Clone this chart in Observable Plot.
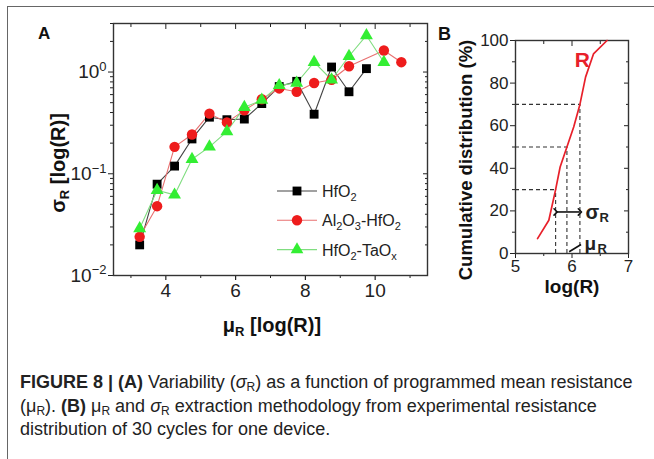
<!DOCTYPE html>
<html><head><meta charset="utf-8">
<script src="https://cdn.jsdelivr.net/npm/d3@7"></script>
<script src="https://cdn.jsdelivr.net/npm/@observablehq/plot@0.6"></script>
<style>
body{margin:0;background:#fff;}
#fig{position:relative;width:654px;height:459px;overflow:hidden;font-family:"Liberation Sans",Arial,sans-serif;color:#111;}
.abs{position:absolute;white-space:nowrap;}
#frame{position:absolute;left:7px;top:6px;width:700px;height:500px;border:1px solid #666;}
.plot{position:absolute;}
#caption{position:absolute;left:20px;top:371px;font-family:"Liberation Sans",Arial,sans-serif;font-size:18px;line-height:23.5px;white-space:nowrap;color:#222;}
#caption sub{font-size:12px;vertical-align:-3px;line-height:0;}
.lab{font-weight:bold;font-size:20px;}
.lab sub{font-size:13px;vertical-align:-4px;line-height:0;}
</style></head><body>
<div id="fig">
  <div id="frame"></div>
</div>
<script>
// ---------- Panel A data ----------
const hfo2Mu    = [3.25, 3.75, 4.25, 4.75, 5.25, 5.75, 6.25, 6.75, 7.25, 7.75, 8.25, 8.75, 9.25, 9.75];
const hfo2Sigma = [0.020, 0.079, 0.119, 0.22, 0.36, 0.34, 0.345, 0.49, 0.72, 0.81, 0.385, 1.12, 0.64, 1.08];
const alMu      = [3.25, 3.75, 4.25, 4.75, 5.25, 5.75, 6.25, 6.75, 7.25, 7.75, 8.25, 8.75, 9.25, 10.25, 10.75];
const alSigma   = [0.024, 0.048, 0.184, 0.243, 0.39, 0.32, 0.42, 0.54, 0.69, 0.64, 0.78, 0.84, 1.14, 1.63, 1.25];
const taMu      = [3.25, 3.75, 4.25, 4.75, 5.25, 5.75, 6.25, 6.75, 7.25, 7.75, 8.25, 8.75, 9.25, 9.75, 10.25];
const taSigma   = [0.029, 0.069, 0.062, 0.139, 0.184, 0.26, 0.45, 0.53, 0.74, 0.78, 1.25, 0.84, 1.43, 2.29, 1.25];
const seriesNames = ["HfO2", "Al2O3-HfO2", "HfO2-TaOx"];
const xMajorA = [4, 6, 8, 10];
const xMinorA = [3, 5, 7, 9, 11];
const yExpA = [-2, -1, 0];

// ---------- Panel B data ----------
const cdfLogR = [5.39, 5.59, 5.71, 5.79, 5.91, 6.03, 6.14, 6.24, 6.38, 6.62];
const cdfPct  = [7, 15.6, 30, 40.6, 50, 59.4, 70, 82.8, 93.7, 100];
const levelPct = [30, 50, 70];
const levelLogR = [5.71, 5.91, 6.14];
const xTicksB = [5, 6, 7];
const xMinorB = [5.5, 6.5];
const yTicksB = [0, 20, 40, 60, 80, 100];
const yMinorB = [10, 30, 50, 70, 90];

const fig = document.getElementById("fig");
const FONT = "Liberation Sans, Arial, sans-serif";

function rows(xs, ys, name) { return xs.map((x, i) => ({x, y: ys[i], name})); }
const dA = rows(hfo2Mu, hfo2Sigma, seriesNames[0]);
const dB = rows(alMu, alSigma, seriesNames[1]);
const dC = rows(taMu, taSigma, seriesNames[2]);

const yMinorA = [];
for (const e of yExpA) for (let k = 2; k <= 9; k++) { const v = k * Math.pow(10, e); if (v <= 3) yMinorA.push(v); }
const yMajorA = yExpA.map(e => Math.pow(10, e));

const blank = () => "";
const chartA = Plot.plot({
  width: 440, height: 345,
  marginLeft: 113, marginRight: 13, marginTop: 23, marginBottom: 70,
  x: {domain: [2.5, 11.5]},
  y: {type: "log", domain: [0.01, 3]},
  style: {fontFamily: FONT, fontSize: "18px", color: "#222", background: "transparent", overflow: "visible"},
  marks: [
    Plot.axisX(xMajorA, {tickSize: 5, tickPadding: 3, fontSize: 19, label: null, strokeWidth: 1.2}),
    Plot.axisX(xMinorA, {tickSize: 3, tickFormat: blank, label: null}),
    Plot.axisX(xMajorA, {anchor: "top", tickSize: -5, tickFormat: blank, label: null}),
    Plot.axisX(xMinorA, {anchor: "top", tickSize: -3, tickFormat: blank, label: null}),
    Plot.axisY(yMajorA, {tickSize: 5, tickPadding: 2, fontSize: 19, label: null, tickFormat: d => "10^" + Math.round(Math.log10(d))}),
    Plot.axisY(yMinorA, {tickSize: 3, tickFormat: blank, label: null}),
    Plot.axisY(yMajorA, {anchor: "right", tickSize: -5, tickFormat: blank, label: null}),
    Plot.axisY(yMinorA, {anchor: "right", tickSize: -3, tickFormat: blank, label: null}),
    Plot.frame({stroke: "#333", strokeWidth: 1.4}),
    Plot.line(dA, {x: "x", y: "y", stroke: "#444", strokeWidth: 1.1}),
    Plot.line(dB, {x: "x", y: "y", stroke: "#e87070", strokeWidth: 1.1}),
    Plot.line(dC, {x: "x", y: "y", stroke: "#80dd80", strokeWidth: 1.1}),
    Plot.dot(dA, {x: "x", y: "y", symbol: "square", r: 5, fill: "#000"}),
    Plot.dot(dB, {x: "x", y: "y", symbol: "circle", r: 5.2, fill: "#ee1c1c"}),
    Plot.dot(dC, {x: "x", y: "y", symbol: "triangle", r: 4.8, fill: "#33ee33"})
  ]
});
chartA.classList.add("plot");
chartA.style.left = "0px"; chartA.style.top = "0px";
fig.appendChild(chartA);

// superscripts on log tick labels
d3.select(chartA).selectAll('g[aria-label="y-axis tick label"] text').each(function () {
  const t = this.textContent;
  if (!t.startsWith("10^")) return;
  const exp = t.slice(3).replace("-", "\u2212");
  const sel = d3.select(this);
  sel.text("10");
  sel.append("tspan").attr("dy", "-0.55em").attr("font-size", "13px").text(exp);
});

// ---------- Panel B ----------
const cdf = cdfLogR.map((x, i) => ({x, y: cdfPct[i]}));
const levels = levelPct.map((p, i) => ({p, x: levelLogR[i]}));
const sigmaArrow = [{x1: levelLogR[0], x2: levelLogR[2], y: 19.5}];
const muPointer = [{x1: 5.95, y1: 0.8, x2: 6.16, y2: 4.2}];
const annotations = [
  {x: 6.24, y: 19, t: "σ", size: 20, dx: 0, dy: 0},
  {x: 6.24, y: 19, t: "R", size: 13, dx: 14, dy: 5},
  {x: 6.22, y: 4.5, t: "μ", size: 19, dx: 0, dy: 0},
  {x: 6.22, y: 4.5, t: "R", size: 13, dx: 13, dy: 5}
];

const chartB = Plot.plot({
  width: 214, height: 310,
  marginLeft: 75, marginRight: 26, marginTop: 40, marginBottom: 57,
  x: {domain: [5, 7]},
  y: {domain: [0, 100]},
  style: {fontFamily: FONT, fontSize: "17px", color: "#222", background: "transparent", overflow: "visible"},
  marks: [
    Plot.axisX(xTicksB, {tickSize: 5, tickPadding: 1, fontSize: 17, label: null}),
    Plot.axisX(xMinorB, {tickSize: 3, tickFormat: blank, label: null}),
    Plot.axisX(xTicksB, {anchor: "top", tickSize: -5, tickFormat: blank, label: null}),
    Plot.axisX(xMinorB, {anchor: "top", tickSize: -3, tickFormat: blank, label: null}),
    Plot.axisY(yTicksB, {tickSize: 5, tickPadding: 2, fontSize: 17, label: null}),
    Plot.axisY(yMinorB, {tickSize: 3, tickFormat: blank, label: null}),
    Plot.axisY(yTicksB, {anchor: "right", tickSize: -5, tickFormat: blank, label: null}),
    Plot.axisY(yMinorB, {anchor: "right", tickSize: -3, tickFormat: blank, label: null}),
    Plot.frame({stroke: "#333", strokeWidth: 1.4}),
    Plot.ruleY(levels, {y: "p", x1: 5, x2: "x", stroke: "#333", strokeWidth: 1.1, strokeDasharray: "4,3"}),
    Plot.ruleX(levels, {x: "x", y1: 0, y2: "p", stroke: "#333", strokeWidth: 1.1, strokeDasharray: "4,3"}),
    Plot.line(cdf, {x: "x", y: "y", stroke: "#e8202a", strokeWidth: 1.7}),
    Plot.link(sigmaArrow, {x1: "x1", x2: "x2", y1: "y", y2: "y", stroke: "#111", strokeWidth: 1.6, markerStart: "arrow", markerEnd: "arrow"}),
    Plot.link(muPointer, {x1: "x1", y1: "y1", x2: "x2", y2: "y2", stroke: "#111", strokeWidth: 1.6}),
    ...annotations.map(a => Plot.text([a], {x: "x", y: "y", text: "t", fontSize: a.size, fontWeight: "bold", textAnchor: "start", dx: a.dx, dy: a.dy, fill: "#222"})),
    Plot.text([{x: 6.05, y: 90.5, t: "R"}], {x: "x", y: "y", text: "t", fontSize: 21, fontWeight: "bold", textAnchor: "start", fill: "#e8202a"})
  ]
});
chartB.classList.add("plot");
chartB.style.left = "440px"; chartB.style.top = "0px";
fig.appendChild(chartB);

// ---------- Legend (panel A) ----------
const legendItems = [
  {label: ["HfO", "2", ""], sym: d3.symbolSquare, size: 78, fill: "#000", line: "#444"},
  {label: ["Al", "2", "O", "3", "-HfO", "2"], sym: d3.symbolCircle, size: 85, fill: "#ee1c1c", line: "#e87070"},
  {label: ["HfO", "2", "-TaO", "x"], sym: d3.symbolTriangle, size: 70, fill: "#33ee33", line: "#80dd80"}
];
const leg = d3.select(fig).append("svg").attr("class", "plot")
  .style("left", "270px").style("top", "176px").attr("width", 160).attr("height", 90)
  .style("overflow", "visible");
legendItems.forEach((it, i) => {
  const g = leg.append("g").attr("transform", `translate(0,${15 + i * 29.3})`);
  g.append("line").attr("x1", 7).attr("x2", 47).attr("y1", 0).attr("y2", 0).attr("stroke", it.line).attr("stroke-width", 1.1);
  g.append("path").attr("d", d3.symbol(it.sym, it.size)()).attr("transform", "translate(27,0)").attr("fill", it.fill);
  const t = g.append("text").attr("x", 52).attr("y", 6).attr("font-family", FONT).attr("font-size", 16).attr("fill", "#222");
  it.label.forEach((s, j) => {
    if (!s) return;
    if (j % 2 === 0) t.append("tspan").attr("dy", j === 0 ? 0 : -4).attr("font-size", 16).text(s);
    else t.append("tspan").attr("dy", 4).attr("font-size", 11).text(s);
  });
});

// ---------- Text labels ----------
function addDiv(html, css) {
  const d = document.createElement("div");
  d.className = "abs";
  d.innerHTML = html;
  Object.assign(d.style, css);
  fig.appendChild(d);
  return d;
}
addDiv("A", {left: "38px", top: "24px", fontWeight: "bold", fontSize: "17px"});
addDiv("B", {left: "438px", top: "24px", fontWeight: "bold", fontSize: "18px"});
const yl = addDiv('σ<sub>R</sub> [log(R)]', {left: "58px", top: "163px", transform: "translate(-50%,-50%) rotate(-90deg)"});
yl.classList.add("lab");
const xl = addDiv('μ<sub>R</sub> [log(R)]', {left: "272px", top: "325px", transform: "translate(-50%,-50%)"});
xl.classList.add("lab");
addDiv('Cumulative distribution (%)', {left: "466px", top: "160px", transform: "translate(-50%,-50%) rotate(-90deg)", fontWeight: "bold", fontSize: "18.5px"});
addDiv('log(R)', {left: "572px", top: "287px", transform: "translate(-50%,-50%)", fontWeight: "bold", fontSize: "19px"});

const cap = document.createElement("div");
cap.id = "caption";
cap.innerHTML = '<b>FIGURE 8 | (A)</b> Variability (<i>σ</i><sub>R</sub>) as a function of programmed mean resistance<br>' +
  '(μ<sub>R</sub>). <b>(B)</b> μ<sub>R</sub> and <i>σ</i><sub>R</sub> extraction methodology from experimental resistance<br>' +
  'distribution of 30 cycles for one device.';
fig.appendChild(cap);
</script>
</body></html>
